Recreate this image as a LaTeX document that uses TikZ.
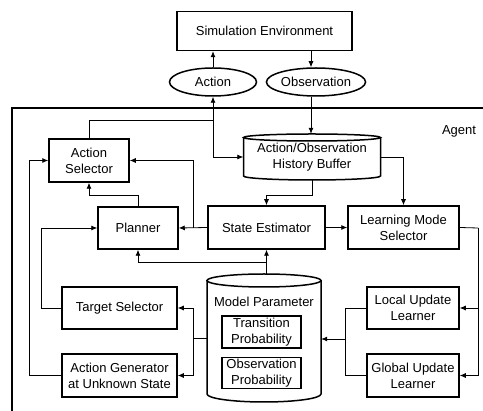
\documentclass[tikz,border=0pt]{standalone}
\usepackage{fontspec}
\setmainfont{Liberation Sans}
\usetikzlibrary{arrows.meta,calc,shapes.geometric}
\begin{document}
\begin{tikzpicture}[x=1pt,y=-1pt,
  txt/.style={font=\fontsize{13}{16}\selectfont, align=center, inner sep=0pt},
  box/.style={txt, draw, line width=1.5pt, minimum width=#1, minimum height=43pt},
  oval/.style={txt, draw, ellipse, line width=1.5pt, minimum height=28pt},
  conn/.style={line width=0.8pt, -{Latex[length=6pt,width=5pt]}},
  wire/.style={line width=0.8pt},
  thickline/.style={line width=1.5pt}]
\useasboundingbox (0,0) rectangle (483,411);

% agent frame
\draw[line width=2pt] (483,108) -- (12,108) -- (12,411);
\node[txt] (agent) at (459,131) {Agent};

% nodes
\node[box=175pt, minimum height=39pt] (env) at (264.5,31) {Simulation Environment};
\node[oval, minimum width=87pt] (act) at (213,82) {Action};
\node[oval, minimum width=98pt] (obs) at (316,82) {Observation};
\node[box=80pt] (asel) at (89,160.5) {Action\\Selector};
\node[box=80pt, minimum height=42pt] (plan) at (138,228) {Planner};
\node[box=117pt] (se) at (266.5,227.5) {State Estimator};
\node[box=111pt] (lms) at (403.5,227.5) {Learning Mode\\Selector};
\node[box=115pt, minimum height=42pt] (ts) at (119.5,308) {Target Selector};
\node[box=115pt] (ag) at (119.5,375.5) {Action Generator\\at Unknown State};
\node[box=92pt, minimum height=42pt] (lul) at (413,308) {Local Update\\Learner};
\node[box=92pt] (gul) at (413,375.5) {Global Update\\Learner};

% buffer cylinder
\node[txt, minimum width=137pt, minimum height=46pt] (buf) at (312,157) {Action/Observation\\History Buffer};
\draw[thickline] (243.5,137.5) -- (243.5,176) arc[start angle=180, end angle=0, x radius=68.5, y radius=4] -- (380.5,137.5);
\draw[thickline] (312,137.5) ellipse [x radius=68.5, y radius=3.5];

% model parameter cylinder
\node[minimum width=114pt, minimum height=128pt, inner sep=0pt] (mp) at (264,338) {};
\draw[thickline] (207,280.5) -- (207,394) arc[start angle=180, end angle=0, x radius=57, y radius=8] -- (321,280.5);
\draw[thickline] (264,280.5) ellipse [x radius=57, y radius=6.5];
\node[txt] (mplabel) at (264,302) {Model Parameter};
\node[box=79pt, minimum height=32pt] (tp) at (261.5,332) {Transition\\Probability};
\node[box=79pt, minimum height=31pt] (op) at (261.5,373) {Observation\\Probability};

% helper coordinates
\coordinate (ox) at (311,0);
\coordinate (j1) at (213,120);
\coordinate (j2) at (213,157);
\coordinate (y195) at (0,195);
\coordinate (j3) at (193,228);
\coordinate (mptop) at (264,274);
\coordinate (y262) at (0,262);
\coordinate (j5) at (193,338);
\coordinate (j6) at (478,228);
\coordinate (j7) at (345,339);

% connectors
\draw[conn] (act.north) -- (act.north |- env.south);
\draw[conn] (ox |- env.south) -- (ox |- obs.north);
\draw[conn] (ox |- obs.south) -- (ox |- buf.north);
\draw[wire] (asel.north) |- (j1);
\draw[conn] (j2) -- (act.south);
\draw[conn] (j2) -- (j2 -| buf.west);
\draw[conn] (buf.east) -| (lms.north);
\draw[conn] (buf.south) -- (buf.south |- y195) -| (se.north);
\draw[conn] (se.east) -- (lms.west);
\draw[conn] (se.west) -- (plan.east);
\draw[conn] (j3) |- (asel.east);
\draw[conn] (plan.north) -- (plan.north |- y195) -| (asel.south);
\draw[conn] (se.south |- mptop) -- (se.south);
\draw[conn] (se.south |- y262) -| (plan.south);
\draw[wire] (mp.west |- j5) -- (j5);
\draw[conn] (j5) |- (ts.east);
\draw[conn] (j5) |- (ag.east);
\draw[conn] (ts.west) -- ++(-20,0) |- (plan.west);
\draw[conn] (ag.west) -- ++(-32,0) |- (asel.west);
\draw[wire] (lms.east) -- (j6);
\draw[conn] (j6) |- (lul.east);
\draw[conn] (j6) |- (gul.east);
\draw[wire] (lul.west) -| (j7);
\draw[wire] (gul.west) -| (j7);
\draw[conn] (j7) -- (j7 -| mp.east);
\end{tikzpicture}
\end{document}
